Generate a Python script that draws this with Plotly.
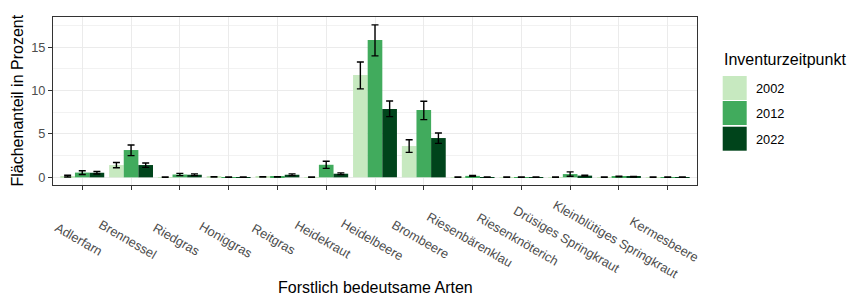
import plotly.graph_objects as go

categories = ["Adlerfarn", "Brennessel", "Riedgras", "Honiggras", "Reitgras", "Heidekraut",
              "Heidelbeere", "Brombeere", "Riesenbärenklau", "Riesenknöterich",
              "Drüsiges Springkraut", "Kleinblütiges Springkraut", "Kermesbeere"]
years = ["2002", "2012", "2022"]
colors = ["#C7E9C0", "#41AB5D", "#00441B"]

values = {
    "2002": [0.15, 1.42, 0.02, 0.05, 0.05, 0.02, 11.8, 3.61, 0.02, 0.02, 0.02, 0.02, 0.03],
    "2012": [0.55, 3.15, 0.33, 0.02, 0.05, 1.45, 15.84, 7.77, 0.17, 0.02, 0.38, 0.10, 0.03],
    "2022": [0.53, 1.42, 0.30, 0.02, 0.30, 0.42, 7.88, 4.53, 0.02, 0.02, 0.20, 0.08, 0.03],
}
err_plus = {
    "2002": [0.10, 0.30, 0.02, 0.02, 0.02, 0.02, 1.50, 0.73, 0.02, 0.02, 0.02, 0.02, 0.02],
    "2012": [0.22, 0.58, 0.13, 0.02, 0.02, 0.40, 1.73, 1.00, 0.05, 0.02, 0.25, 0.04, 0.02],
    "2022": [0.14, 0.23, 0.10, 0.02, 0.10, 0.10, 0.92, 0.58, 0.02, 0.02, 0.06, 0.03, 0.02],
}
err_minus = {
    "2002": [0.10, 0.32, 0.02, 0.02, 0.02, 0.02, 1.60, 0.73, 0.02, 0.02, 0.02, 0.02, 0.02],
    "2012": [0.22, 0.65, 0.13, 0.02, 0.02, 0.41, 1.84, 1.12, 0.05, 0.02, 0.25, 0.04, 0.02],
    "2022": [0.14, 0.27, 0.10, 0.02, 0.10, 0.10, 0.88, 0.61, 0.02, 0.02, 0.06, 0.03, 0.02],
}
y_ticks = [0, 5, 10, 15]

FONT = "Liberation Sans, Arial, sans-serif"
TICK_SIZE = 12.8
TITLE_SIZE = 16

W, H = 848, 296
pl, pr, pt, pb = 53, 697, 17, 185
def px_to_paper_x(px):
    return (px - pl) / (pr - pl)
def px_to_paper_y(py):
    return (pb - py) / (pb - pt)

fig = go.Figure()
for yr, col in zip(years, colors):
    fig.add_trace(go.Bar(
        x=categories, y=values[yr], name=yr, marker=dict(color=col, line=dict(width=0)),
        error_y=dict(type="data", symmetric=False, array=err_plus[yr], arrayminus=err_minus[yr],
                     color="black", thickness=1.4, width=3.5),
        showlegend=False,
    ))

# x tick labels (rotated, centred on ticks)
for c in categories:
    fig.add_annotation(x=c, xref="x", y=px_to_paper_y(239), yref="paper", text=c, showarrow=False,
                       textangle=30, xanchor="center", yanchor="middle", xshift=-3,
                       font=dict(family=FONT, size=TICK_SIZE, color="#4D4D4D"))

# axis titles
fig.add_annotation(x=0.5, xref="paper", y=px_to_paper_y(287), yref="paper",
                   text="Forstlich bedeutsame Arten", showarrow=False,
                   xanchor="center", yanchor="middle",
                   font=dict(family=FONT, size=TITLE_SIZE, color="black"))
fig.add_annotation(x=px_to_paper_x(16.5), xref="paper", y=0.5, yref="paper",
                   text="Flächenanteil in Prozent", showarrow=False, textangle=-90,
                   xanchor="center", yanchor="middle",
                   font=dict(family=FONT, size=TITLE_SIZE, color="black"))

# custom legend
L_X0, L_X1 = 722.7, 746.7
fig.add_annotation(x=px_to_paper_x(721.5), xref="paper", y=px_to_paper_y(59.5), yref="paper",
                   text="Inventurzeitpunkt", showarrow=False, xanchor="left", yanchor="middle",
                   font=dict(family=FONT, size=TITLE_SIZE, color="black"))
key_tops = [76, 101, 126.7]
for yr, col, top in zip(years, colors, key_tops):
    fig.add_shape(type="rect", xref="paper", yref="paper",
                  x0=px_to_paper_x(L_X0), x1=px_to_paper_x(L_X1),
                  y0=px_to_paper_y(top + 24), y1=px_to_paper_y(top),
                  fillcolor=col, line=dict(width=0))
    fig.add_annotation(x=px_to_paper_x(754.5), xref="paper", y=px_to_paper_y(top + 12.5), yref="paper",
                       text=yr, showarrow=False, xanchor="left", yanchor="middle",
                       font=dict(family=FONT, size=TICK_SIZE, color="black"))

fig.update_layout(
    width=W, height=H,
    margin=dict(l=pl, r=W - pr, t=pt, b=H - pb, pad=0, autoexpand=False),
    paper_bgcolor="white", plot_bgcolor="white",
    barmode="group", bargap=0.1, bargroupgap=0,
    font=dict(family=FONT, color="black"),
    xaxis=dict(
        type="category", categoryorder="array", categoryarray=categories,
        range=[-0.6, len(categories) - 0.4], automargin=False,
        showticklabels=False, ticks="outside", ticklen=4, tickcolor="#333333", tickwidth=1,
        showgrid=True, gridcolor="#EBEBEB", gridwidth=1.1,
        showline=True, linecolor="#333333", linewidth=1.1, mirror=True,
        zeroline=False,
    ),
    yaxis=dict(
        range=[-0.88, 18.48], tickvals=y_ticks, ticktext=[str(v) for v in y_ticks],
        automargin=False,
        ticks="outside", ticklen=4, tickcolor="#333333", tickwidth=1,
        tickfont=dict(family=FONT, size=TICK_SIZE, color="#4D4D4D"),
        showgrid=True, gridcolor="#EBEBEB", gridwidth=1.1,
        minor=dict(dtick=2.5, tick0=2.5, showgrid=True, gridcolor="#F2F2F2", gridwidth=0.6, ticks=""),
        showline=True, linecolor="#333333", linewidth=1.1, mirror=True,
        zeroline=False,
    ),
)

fig.write_html("out.html", config={"displayModeBar": False},
               post_script="document.body.style.margin='0';")
